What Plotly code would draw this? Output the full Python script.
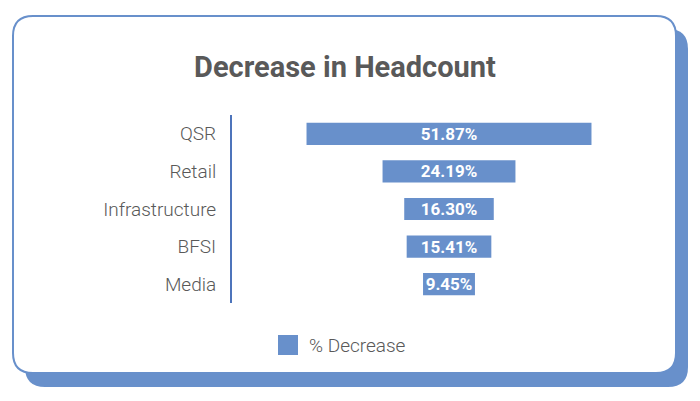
import plotly.graph_objects as go

categories = ["QSR", "Retail", "Infrastructure", "BFSI", "Media"]
decrease_pct = [51.87, 24.19, 16.30, 15.41, 9.45]
series_name = "% Decrease"
title_text = "Decrease in Headcount"

# page body has an 8px margin, so the figure is placed at (8, 8)
OFF = 8
W, H = 700 - OFF, 401 - OFF
BLUE = "#6890cb"
AXIS_BLUE = "#4d74bb"
GREY = "#595959"


def px(x):
    return (x - OFF) / W


def py(y):
    return 1 - (y - OFF) / H


def rounded_rect(x0, y0, x1, y1, r):
    pts = [
        f"M {px(x0 + r)} {py(y0)}",
        f"L {px(x1 - r)} {py(y0)}",
        f"Q {px(x1)} {py(y0)} {px(x1)} {py(y0 + r)}",
        f"L {px(x1)} {py(y1 - r)}",
        f"Q {px(x1)} {py(y1)} {px(x1 - r)} {py(y1)}",
        f"L {px(x0 + r)} {py(y1)}",
        f"Q {px(x0)} {py(y1)} {px(x0)} {py(y1 - r)}",
        f"L {px(x0)} {py(y0 + r)}",
        f"Q {px(x0)} {py(y0)} {px(x0 + r)} {py(y0)}",
        "Z",
    ]
    return " ".join(pts)


fig = go.Figure()
fig.add_trace(go.Funnel(
    y=categories,
    x=decrease_pct,
    name=series_name,
    marker=dict(color=BLUE, line=dict(width=0)),
    connector=dict(visible=False),
    texttemplate="%{x:.2f}%",
    textposition="inside",
    insidetextanchor="middle",
    textfont=dict(family="Roboto", size=17, color="white", weight="bold"),
    constraintext="none",
    showlegend=False,
    hoverinfo="y+x",
))

R = 39.5
fig.update_layout(
    width=W, height=H, autosize=False,
    margin=dict(l=0, r=0, t=0, b=0),
    paper_bgcolor="white", plot_bgcolor="rgba(0,0,0,0)",
    funnelgap=0.41,
    showlegend=False,
    title=dict(text=f"<b>{title_text}</b>", x=px(345), xanchor="center",
               y=py(67), yanchor="middle",
               font=dict(family="Roboto", size=29, color=GREY)),
    xaxis=dict(domain=[px(232), px(666)], range=[-R, R], visible=False,
               fixedrange=True),
    yaxis=dict(domain=[py(303), py(115)], autorange="reversed",
               showline=True, linecolor=AXIS_BLUE,
               linewidth=2, showgrid=False, zeroline=False, ticks="",
               ticklabelstandoff=10,
               tickfont=dict(family="Roboto", size=19, color=GREY,
                             weight=300)),
    shapes=[
        dict(type="path", xref="paper", yref="paper", layer="below",
             path=rounded_rect(25, 29, 688, 387, 20),
             fillcolor=BLUE, line=dict(width=0)),
        dict(type="path", xref="paper", yref="paper", layer="below",
             path=rounded_rect(13, 16, 676, 373, 20),
             fillcolor="white", line=dict(color=BLUE, width=2)),
        # legend swatch
        dict(type="rect", xref="paper", yref="paper",
             x0=px(278), x1=px(298), y0=py(355), y1=py(335),
             fillcolor=BLUE, line=dict(width=0)),
    ],
    annotations=[
        dict(text=series_name, xref="paper", yref="paper", x=px(307),
             y=py(345), xanchor="left", yanchor="middle", showarrow=False,
             font=dict(family="Roboto", size=19, color=GREY, weight=300)),
    ],
)

fig.write_html("out.html")
